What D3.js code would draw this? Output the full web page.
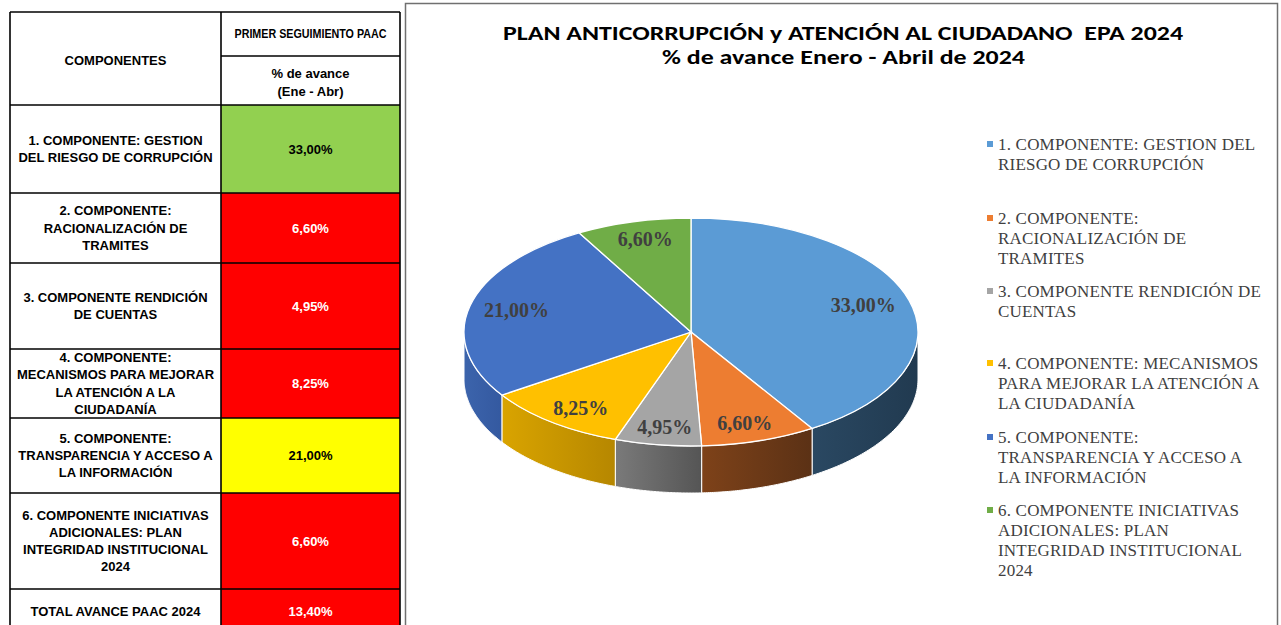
<!DOCTYPE html>
<html><head><meta charset="utf-8">
<script src="https://cdn.jsdelivr.net/npm/d3@7"></script>
<style>html,body{margin:0;padding:0;background:#fff;overflow:hidden}svg{display:block}text.pre{white-space:pre}</style>
</head><body><svg id="c" width="1281" height="625"></svg>
<script>
// ---------------- DATA ----------------
const categories = [
  "1. COMPONENTE: GESTION DEL RIESGO DE CORRUPCIÓN",
  "2. COMPONENTE: RACIONALIZACIÓN DE TRAMITES",
  "3. COMPONENTE RENDICIÓN DE CUENTAS",
  "4. COMPONENTE: MECANISMOS PARA MEJORAR LA ATENCIÓN A LA CIUDADANÍA",
  "5. COMPONENTE: TRANSPARENCIA Y ACCESO A LA INFORMACIÓN",
  "6. COMPONENTE INICIATIVAS ADICIONALES: PLAN INTEGRIDAD INSTITUCIONAL 2024"
];
const values = [33.00, 6.60, 4.95, 8.25, 21.00, 6.60];
const totalLabel = "TOTAL AVANCE PAAC 2024";
const totalValue = 13.40;
const tableLines = [
  ["1. COMPONENTE: GESTION", "DEL RIESGO DE CORRUPCIÓN"],
  ["2. COMPONENTE:", "RACIONALIZACIÓN DE", "TRAMITES"],
  ["3. COMPONENTE RENDICIÓN", "DE CUENTAS"],
  ["4. COMPONENTE:", "MECANISMOS PARA MEJORAR", "LA ATENCIÓN A LA", "CIUDADANÍA"],
  ["5. COMPONENTE:", "TRANSPARENCIA Y ACCESO A", "LA INFORMACIÓN"],
  ["6. COMPONENTE INICIATIVAS", "ADICIONALES: PLAN", "INTEGRIDAD INSTITUCIONAL", "2024"]
];
const legendLines = [
  ["1. COMPONENTE: GESTION DEL", "RIESGO DE CORRUPCIÓN"],
  ["2. COMPONENTE:", "RACIONALIZACIÓN DE", "TRAMITES"],
  ["3. COMPONENTE RENDICIÓN DE", "CUENTAS"],
  ["4. COMPONENTE: MECANISMOS", "PARA MEJORAR LA ATENCIÓN A", "LA CIUDADANÍA"],
  ["5. COMPONENTE:", "TRANSPARENCIA Y ACCESO A", "LA INFORMACIÓN"],
  ["6. COMPONENTE INICIATIVAS", "ADICIONALES: PLAN", "INTEGRIDAD INSTITUCIONAL", "2024"]
];
const titleLines = ["PLAN ANTICORRUPCIÓN y ATENCIÓN AL CIUDADANO  EPA 2024", "% de avance Enero - Abril de 2024"];
const headerComponents = "COMPONENTES";
const headerTop = "PRIMER SEGUIMIENTO PAAC";
const headerSub = ["% de avance", "(Ene - Abr)"];

// ---------------- STYLES ----------------
const topColors  = ["#5B9BD5", "#ED7D31", "#A5A5A5", "#FFC000", "#4472C4", "#70AD47"];
const sideStart  = ["#2A4862", "#7E4219", "#7A7A7A", "#D9A400", "#3C64AC", "#4F7A32"];
const sideEnd    = ["#213A50", "#5B3115", "#555555", "#B68700", "#3459A0", "#3E6127"];
const cellColors = ["#92D050", "#FF0000", "#FF0000", "#FF0000", "#FFFF00", "#FF0000"];
const cellText   = ["#000", "#fff", "#fff", "#fff", "#000", "#fff"];
const totalCell = "#FF0000";

const fmt = v => d3.format(".2f")(v).replace(".", ",") + "%";
const svg = d3.select("#c");
const defs = svg.append("defs");

// ---------------- TABLE ----------------
const tx0 = 10, tx1 = 221, tx2 = 400;
const tTop = 12, tSplit = 56, tHead = 105;
const rowBottoms = [193, 263, 349, 418, 493, 589];
const totalBottom = 633;
const rowTops = [tHead].concat(rowBottoms.slice(0, -1));
const tg = svg.append("g");
const sans = "'Liberation Sans', Arial, sans-serif";

rowBottoms.forEach((b, i) => {
  tg.append("rect").attr("x", tx1).attr("y", rowTops[i]).attr("width", tx2 - tx1).attr("height", b - rowTops[i]).attr("fill", cellColors[i]);
});
tg.append("rect").attr("x", tx1).attr("y", rowBottoms[5]).attr("width", tx2 - tx1).attr("height", totalBottom - rowBottoms[5]).attr("fill", totalCell);

const lines = [];
lines.push([tx0, tTop, tx2, tTop]);
lines.push([tx1, tSplit, tx2, tSplit]);
lines.push([tx0, tHead, tx2, tHead]);
rowBottoms.forEach(b => lines.push([tx0, b, tx2, b]));
lines.push([tx0, tTop, tx0, totalBottom]);
lines.push([tx1, tTop, tx1, totalBottom]);
lines.push([tx2, tTop, tx2, totalBottom]);
tg.selectAll("line.b").data(lines).enter().append("line")
  .attr("x1", d => d[0]).attr("y1", d => d[1]).attr("x2", d => d[2]).attr("y2", d => d[3])
  .attr("stroke", "#000").attr("stroke-width", 1.6);

const c1 = (tx0 + tx1) / 2, c2 = (tx1 + tx2) / 2;
function tText(x, y, s, opts = {}) {
  const t = tg.append("text").attr("x", x).attr("y", y).attr("text-anchor", "middle")
    .attr("dominant-baseline", "central").attr("font-family", sans).attr("font-weight", "bold")
    .attr("font-size", opts.size || 13).attr("fill", opts.fill || "#000").text(s);
  if (opts.len) t.attr("textLength", opts.len).attr("lengthAdjust", "spacingAndGlyphs");
  return t;
}
tText(c1, 60, headerComponents);
tText(c2, 34, headerTop, {size: 12.5, len: 152});
tText(c2, 73, headerSub[0]);
tText(c2, 91, headerSub[1]);
const lh = 17.3;
tableLines.forEach((ls, i) => {
  const mid = (rowTops[i] + rowBottoms[i]) / 2;
  ls.forEach((s, j) => tText(c1, mid + (j - (ls.length - 1) / 2) * lh, s));
  tText(c2, mid, fmt(values[i]), {fill: cellText[i]});
});
tText(c1, 611, totalLabel);
tText(c2, 611, fmt(totalValue), {fill: "#fff"});

// ---------------- CHART FRAME ----------------
svg.append("rect").attr("x", 405.5).attr("y", 3.5).attr("width", 872).attr("height", 660)
  .attr("fill", "none").attr("stroke", "#707070").attr("stroke-width", 1.5);

const title = svg.append("g").attr("font-family", "Carlito, Calibri, 'Liberation Sans Narrow', 'Open Sans', sans-serif")
  .attr("font-weight", "bold").attr("font-size", 19.5).attr("fill", "#000").attr("text-anchor", "middle");
title.append("text").attr("class", "pre").attr("x", 843).attr("y", 39.5).attr("textLength", 680).attr("lengthAdjust", "spacingAndGlyphs").text(titleLines[0]);
title.append("text").attr("class", "pre").attr("x", 843.5).attr("y", 64).attr("textLength", 363).attr("lengthAdjust", "spacingAndGlyphs").text(titleLines[1]);

// ---------------- 3D PIE ----------------
const cx = 691, cy = 332, rx = 227, ry = 114, depth = 47;
const pie = d3.pie().sort(null).value(d => d).startAngle(0).endAngle(2 * Math.PI);
const arcs = pie(values);
const ex = a => cx + rx * Math.sin(a);
const ey = a => cy - ry * Math.cos(a);
const lineGen = d3.line();

const sides = svg.append("g");
arcs.forEach((d, i) => {
  const a0 = Math.max(d.startAngle, Math.PI / 2);
  const a1 = Math.min(d.endAngle, 3 * Math.PI / 2);
  if (a0 >= a1) return;
  const n = 60;
  const angs = d3.range(n + 1).map(k => a0 + (a1 - a0) * k / n);
  const pts = angs.map(a => [ex(a), ey(a)]).concat(angs.slice().reverse().map(a => [ex(a), ey(a) + depth]));
  const gid = "sg" + i;
  const gr = defs.append("linearGradient").attr("id", gid).attr("x1", 0).attr("x2", 1).attr("y1", 0).attr("y2", 0);
  gr.append("stop").attr("offset", "0%").attr("stop-color", sideStart[i]);
  gr.append("stop").attr("offset", "100%").attr("stop-color", sideEnd[i]);
  sides.append("path").attr("d", lineGen(pts) + "Z").attr("fill", `url(#${gid})`)
    .attr("stroke", "#fff").attr("stroke-width", 1).attr("stroke-linejoin", "round");
});

const arcGen = d3.arc().innerRadius(0).outerRadius(rx);
const topG = svg.append("g").attr("transform", `translate(${cx},${cy}) scale(1,${ry / rx})`);
topG.selectAll("path").data(arcs).enter().append("path")
  .attr("d", arcGen).attr("fill", (d, i) => topColors[i])
  .attr("stroke", "#fff").attr("stroke-width", 1.3).attr("vector-effect", "non-scaling-stroke");

const labG = svg.append("g").attr("font-family", "'Liberation Serif', 'Times New Roman', serif")
  .attr("font-weight", "bold").attr("font-size", 20).attr("fill", "#404040").attr("text-anchor", "middle")
  .attr("dominant-baseline", "central");
arcs.forEach((d, i) => {
  const m = (d.startAngle + d.endAngle) / 2;
  labG.append("text").attr("x", cx + rx * 0.79 * Math.sin(m)).attr("y", cy - ry * 0.84 * Math.cos(m)).text(fmt(d.value));
});

// ---------------- LEGEND ----------------
const legendY = [144, 218, 291, 363, 437, 510];
const legLH = 20;
const lg = svg.append("g").attr("font-family", "'Liberation Serif', 'Times New Roman', serif")
  .attr("font-size", 17).attr("letter-spacing", 0.2).attr("fill", "#404040");
legendLines.forEach((ls, i) => {
  lg.append("rect").attr("x", 987).attr("y", legendY[i] - 3).attr("width", 6).attr("height", 6).attr("fill", topColors[i]);
  ls.forEach((s, j) => lg.append("text").attr("x", 998).attr("y", legendY[i] + j * legLH).attr("dominant-baseline", "central").text(s));
});
</script>
</body></html>
